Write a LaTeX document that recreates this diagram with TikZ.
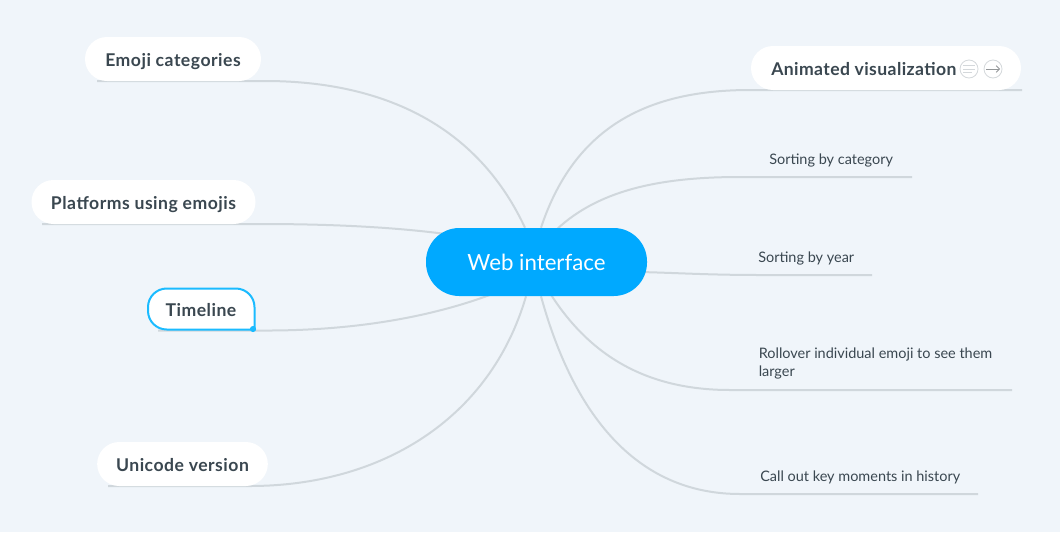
\documentclass[tikz,border=0pt]{standalone}
\usepackage{fontspec}
\setmainfont{Lato}
\usetikzlibrary{backgrounds,arrows.meta}
\definecolor{bgc}{HTML}{F0F5FA}
\definecolor{linec}{HTML}{D0D7DC}
\definecolor{txt}{HTML}{3A4750}
\definecolor{hub}{HTML}{00A9FF}
\definecolor{sel}{HTML}{1BBBFF}
\definecolor{icon}{HTML}{D4D8DB}
\newfontfamily\pillfont[LetterSpace=2.8]{Lato}
\tikzset{
 x=0.75pt,y=-0.75pt,
 pill/.style={fill=white,rounded corners=16.5pt,inner sep=0pt,text=txt,text height=12.5pt,text depth=2pt,font=\pillfont\fontsize{13.2}{15}\selectfont\bfseries},
 hubnode/.style={fill=hub,rounded corners=25pt,inner sep=0pt,text=white,minimum width=165.75pt,minimum height=51pt,font=\fontsize{16.7}{20}\selectfont},
 leaf/.style={inner sep=0pt,text=txt,font=\fontsize{10.85}{13.5}\selectfont,align=left},
 link/.style={draw=linec,line width=1.5pt},
 iconc/.style={circle,draw=icon,fill=white,line width=0.6pt,minimum size=13.5pt,inner sep=0pt},
}
\begin{document}
\begin{tikzpicture}
\useasboundingbox (0,0) rectangle (1060,532);
\node[hubnode] (web) at (536.5,262) {Web interface};
\node[pill,minimum width=132pt,minimum height=33pt] (emoji) at (173,59) {Emoji categories};
\node[pill,minimum width=168pt,minimum height=33pt] (plat) at (143.5,202) {Platforms using emojis};
\node[pill,minimum width=79.5pt,minimum height=31.5pt,fill=none,rounded corners=0pt] (time) at (201,309) {Timeline};
\node[pill,minimum width=128pt,minimum height=33pt] (uni) at (182.5,464) {Unicode version};
\node[pill,minimum width=202.5pt,minimum height=33pt] (anim) at (886,68) {};
\node[pill,anchor=west,fill=none] (animt) at (771,68) {\addfontfeature{LetterSpace=2.2}Animated visualization};
\node[iconc] (ic1) at (969,69) {};
\node[iconc] (ic2) at (993,69) {};
\node[leaf,anchor=west] (cat) at (769,160) {Sorting by category};
\node[leaf,anchor=west] (year) at (758,258) {Sorting by year};
\node[leaf,anchor=north west] (roll) at (758.5,348) {Rollover individual emoji to see them\\larger};
\node[leaf,anchor=west] (call) at (760,477) {Call out key moments in history};
\draw[icon,line width=0.6pt] (963,65.5) -- (975,65.5) (963,69) -- (975,69) (963,72.5) -- (972,72.5);
\draw[icon!70!black,line width=0.6pt,-{Straight Barb[length=2.5pt,width=5pt]}] (986,69) -- (1000,69);
\fill[sel] (253,329) circle (2.3pt);
\coordinate (e1) at (97,81);
\coordinate (e2) at (42,224);
\coordinate (e3) at (158,330.5);
\coordinate (e4) at (108,486);
\coordinate (e5) at (1022,90);
\coordinate (e6) at (912,177);
\coordinate (e7) at (872,275);
\coordinate (e8) at (1012,390);
\coordinate (e9) at (978,494);
\begin{scope}[on background layer]
\fill[bgc] (0,0) rectangle (1060,532);
\draw[link] (e1) -- (265,81) .. controls (360,81) and (470,110) .. (web.north -| 525,0);
\draw[link] (e2) -- (260,224) .. controls (330,224) and (400,227) .. (460,236);
\draw[link] (e3) -- (262,330.5) .. controls (350,331) and (430,318) .. (495,293);
\draw[link] (e4) -- (250,486) .. controls (380,486) and (490,420) .. (web.south -| 526,0);
\draw[link] (e5) -- (750,90) .. controls (650,90) and (575,125) .. (web.north -| 541,0);
\draw[link] (e6) -- (740,177) .. controls (660,177) and (595,190) .. (552,234);
\draw[link] (e7) -- (760,275) .. controls (710,275) and (680,273) .. (640,272);
\draw[link] (e8) -- (730,390) .. controls (640,390) and (585,350) .. (548,290);
\draw[link] (e9) -- (740,494) .. controls (640,494) and (575,420) .. (web.south -| 541,0);
\draw[draw=sel,fill=white,line width=1.5pt,rounded corners=14pt] (253,329.5) -- (148,329.5) -- (148,288.5) -- (254.5,288.5) -- (254.5,340) [sharp corners] -- (254.5,329.5) -- cycle;
\end{scope}
\end{tikzpicture}
\end{document}
